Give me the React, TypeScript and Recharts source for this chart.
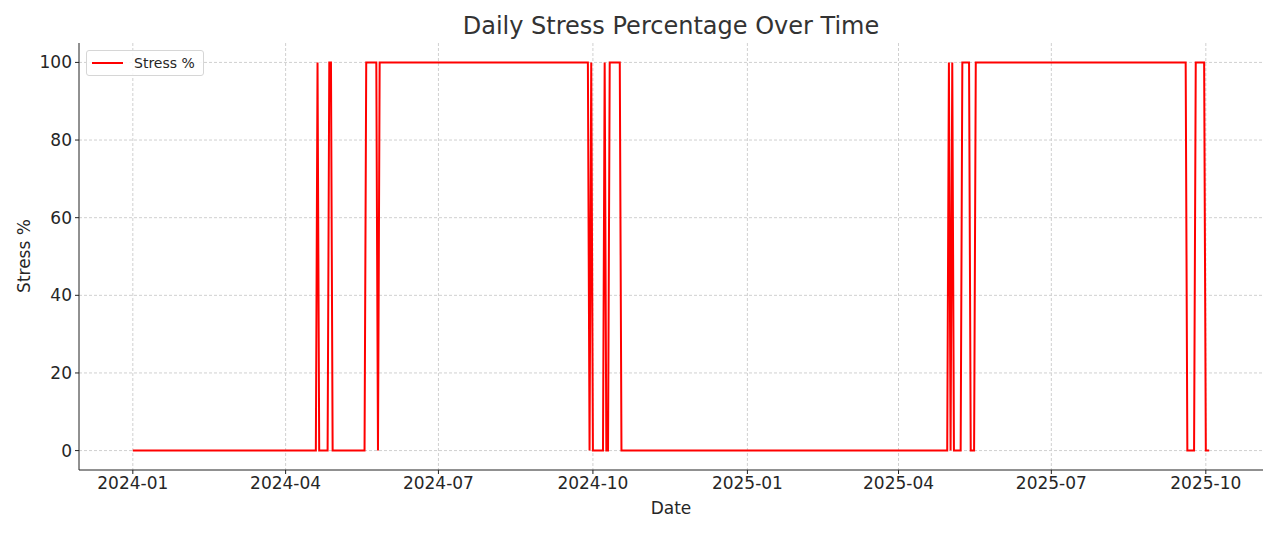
import React from "react"
import { LineChart, Line, XAxis, YAxis, CartesianGrid, Legend } from "recharts"

// Each run starts on a date and keeps its value until the next run starts
const runStarts = [
  "2024-01-01", "2024-04-20", "2024-04-21", "2024-04-27", "2024-04-29",
  "2024-05-19", "2024-05-26", "2024-05-27", "2024-09-29", "2024-09-30",
  "2024-10-01", "2024-10-08", "2024-10-09", "2024-10-11", "2024-10-18",
  "2025-05-01", "2025-05-02", "2025-05-03", "2025-05-04", "2025-05-09",
  "2025-05-14", "2025-05-17", "2025-09-20", "2025-09-25", "2025-10-01",
]
const runValues = [
  0, 100, 0, 100, 0,
  100, 0, 100, 0, 100,
  0, 100, 0, 100, 0,
  100, 0, 100, 0, 100,
  0, 100, 0, 100, 0,
]
const lastDate = "2025-10-03"

const xTickLabels = ["2024-01", "2024-04", "2024-07", "2024-10", "2025-01", "2025-04", "2025-07", "2025-10"]
const yTicks = [0, 20, 40, 60, 80, 100]

const FONT = "'DejaVu Sans', sans-serif"
const TEXT = "#262626"

const dayOf = (d: string) =>
  (Date.UTC(+d.slice(0, 4), +d.slice(5, 7) - 1, +d.slice(8, 10)) - Date.UTC(2024, 0, 1)) / 86400000

const points: { t: number; stress: number }[] = []
runStarts.forEach((s, i) => {
  const start = dayOf(s)
  const end = i < runStarts.length - 1 ? dayOf(runStarts[i + 1]) - 1 : dayOf(lastDate)
  points.push({ t: start, stress: runValues[i] })
  if (end > start) points.push({ t: end, stress: runValues[i] })
})

const first = dayOf(runStarts[0])
const last = dayOf(lastDate)
const pad = (last - first) * 0.05
const xTicks = xTickLabels.map((l) => dayOf(l + "-01"))
const labelFor = (t: number) => xTickLabels[xTicks.indexOf(t)] ?? ""

function LegendBox() {
  return (
    <div
      style={{
        width: 118,
        height: 26,
        boxSizing: "border-box",
        border: "1px solid #d6d6d6",
        borderRadius: 3,
        background: "rgba(255,255,255,0.85)",
        display: "flex",
        alignItems: "center",
        fontFamily: FONT,
        fontSize: 14,
        color: TEXT,
      }}
    >
      <svg width={44} height={24} style={{ flex: "none" }}>
        <line x1={5} x2={36} y1={12} y2={12} stroke="#ff0000" strokeWidth={2} />
      </svg>
      <span style={{ marginLeft: 3 }}>Stress %</span>
    </div>
  )
}

export default function App() {
  return (
    <div style={{ position: "absolute", left: 0, top: 0, width: 1280, height: 533, background: "white" }}>
      <div
        style={{
          position: "absolute",
          left: 79,
          width: 1184,
          top: 11,
          textAlign: "center",
          fontFamily: FONT,
          fontSize: 24,
          color: "#333",
          lineHeight: "30px",
        }}
      >
        Daily Stress Percentage Over Time
      </div>
      <div
        style={{
          position: "absolute",
          left: 79,
          width: 1184,
          top: 496,
          textAlign: "center",
          fontFamily: FONT,
          fontSize: 17,
          color: TEXT,
          lineHeight: "24px",
        }}
      >
        Date
      </div>
      <div
        style={{
          position: "absolute",
          left: 24,
          top: 256,
          transform: "translate(-50%, -50%) rotate(-90deg)",
          fontFamily: FONT,
          fontSize: 17,
          color: TEXT,
          whiteSpace: "nowrap",
          lineHeight: "24px",
        }}
      >
        Stress %
      </div>
      <LineChart width={1280} height={533} data={points} margin={{ top: 43, right: 17, bottom: 23, left: 19 }}>
        <CartesianGrid stroke="#d0d0d0" strokeDasharray="3 2" syncWithTicks />
        <XAxis
          dataKey="t"
          type="number"
          domain={[first - pad, last + pad]}
          ticks={xTicks}
          tickFormatter={labelFor}
          height={40}
          tickSize={4}
          tickMargin={3}
          axisLine={{ stroke: "#222" }}
          tickLine={{ stroke: "#222" }}
          tick={{ fontSize: 17, fill: TEXT, fontFamily: FONT }}
          interval={0}
        />
        <YAxis
          type="number"
          domain={[-5, 105]}
          ticks={yTicks}
          width={60}
          tickSize={4}
          tickMargin={3}
          axisLine={{ stroke: "#222" }}
          tickLine={{ stroke: "#222" }}
          tick={{ fontSize: 17, fill: TEXT, fontFamily: FONT }}
          interval={0}
        />
        <Legend
          layout="vertical"
          align="center"
          verticalAlign="middle"
          wrapperStyle={{ left: 86, top: 50, width: 118 }}
          content={() => <LegendBox />}
        />
        <Line
          type="linear"
          dataKey="stress"
          name="Stress %"
          stroke="#ff0000"
          strokeWidth={2}
          dot={false}
          activeDot={false}
          isAnimationActive={false}
        />
      </LineChart>
    </div>
  )
}
